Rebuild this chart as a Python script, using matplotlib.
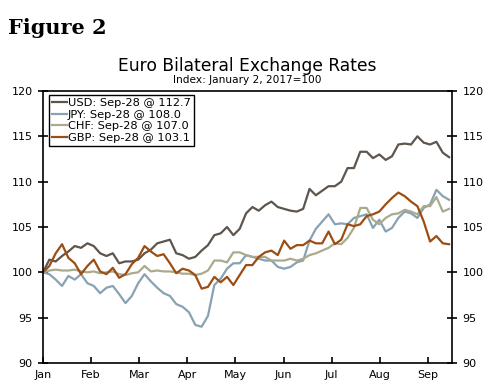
import numpy as np
import matplotlib
matplotlib.use('Agg')
import matplotlib.pyplot as plt

# index values, Jan 2 2017 = 100, sampled about every 3 business days to Sep 28
usd = [100.0, 101.4, 101.2, 101.8, 102.3, 102.9, 102.7, 103.2, 102.9, 102.1,
       101.8, 102.1, 101.0, 101.2, 101.2, 101.4, 102.1, 102.5, 103.2, 103.4,
       103.6, 102.1, 101.9, 101.5, 101.7, 102.4, 103.0, 104.1, 104.3, 105.0,
       104.1, 104.8, 106.5, 107.2, 106.8, 107.4, 107.8, 107.2, 107.0, 106.8,
       106.7, 107.0, 109.2, 108.5, 109.0, 109.5, 109.5, 110.0, 111.5, 111.5,
       113.3, 113.3, 112.6, 113.0, 112.4, 112.8, 114.1, 114.2, 114.1, 115.0,
       114.3, 114.1, 114.4, 113.2, 112.7]
jpy = [100.0, 99.8, 99.2, 98.5, 99.6, 99.2, 99.8, 98.8, 98.5, 97.7,
       98.3, 98.5, 97.6, 96.6, 97.4, 98.8, 99.8, 99.0, 98.3, 97.7,
       97.4, 96.5, 96.2, 95.6, 94.2, 94.0, 95.2, 98.6, 99.3, 100.4,
       101.0, 101.0, 101.9, 101.7, 101.5, 101.3, 101.3, 100.6, 100.4, 100.6,
       101.1, 101.3, 103.5, 104.8, 105.6, 106.4, 105.3, 105.4, 105.3, 106.0,
       106.2, 106.4, 104.9, 105.8, 104.5, 104.9, 106.0, 106.7, 106.5, 106.0,
       107.1, 107.5, 109.1, 108.4, 108.0]
chf = [100.0, 100.2, 100.3, 100.2, 100.2, 100.3, 100.1, 100.0, 100.1, 99.9,
       100.0, 100.1, 99.8, 99.7, 99.9, 100.0, 100.7, 100.1, 100.2, 100.1,
       100.1, 100.0, 99.85, 99.85, 99.7, 99.85, 100.2, 101.3, 101.3, 101.1,
       102.2, 102.2, 101.9, 101.7, 101.7, 101.7, 101.3, 101.3, 101.3, 101.5,
       101.3, 101.5, 101.9, 102.1, 102.4, 102.7, 103.2, 103.1, 103.8, 104.9,
       107.1, 107.1, 105.8, 105.3, 106.0, 106.4, 106.5, 106.9, 106.7, 106.4,
       107.3, 107.3, 108.3, 106.7, 107.0]
gbp = [100.0, 100.7, 102.1, 103.1, 101.6, 101.0, 99.8, 100.7, 101.4, 100.1,
       99.8, 100.5, 99.4, 99.8, 100.9, 101.6, 102.9, 102.3, 101.8, 102.0,
       101.0, 99.9, 100.4, 100.2, 99.7, 98.2, 98.4, 99.5, 98.9, 99.5,
       98.6, 99.7, 100.8, 100.8, 101.7, 102.2, 102.4, 101.9, 103.5, 102.6,
       103.0, 103.0, 103.5, 103.2, 103.2, 104.5, 103.1, 103.6, 105.3, 105.1,
       105.3, 106.2, 106.4, 106.7, 107.5, 108.2, 108.8, 108.4, 107.8, 107.3,
       105.6, 103.4, 104.0, 103.2, 103.1]

months = ['Jan', 'Feb', 'Mar', 'Apr', 'May', 'Jun', 'Jul', 'Aug', 'Sep']
labels = ['USD: Sep-28 @ 112.7', 'JPY: Sep-28 @ 108.0',
          'CHF: Sep-28 @ 107.0', 'GBP: Sep-28 @ 103.1']
colors = ['#5e554c', '#89a2b2', '#aaaa8c', '#9a4e14']


def main():
    matplotlib.rcParams.update({'font.family': 'DejaVu Sans', 'font.size': 8})

    fig = plt.figure(figsize=(4.89, 3.88), dpi=100)
    ax = fig.add_axes([43 / 489, 1 - 363 / 388, 409 / 489, 272 / 388])

    # month axis: equal spaced months, last obs (Sep-28) near 8.44
    x = np.linspace(0, 8.44, len(usd))
    for vals, lab, c in zip([usd, jpy, chf, gbp], labels, colors):
        ax.plot(x, vals, color=c, lw=1.6, label=lab)

    ax.set_xlim(0, 8.5)
    ax.set_ylim(90, 120)
    ax.set_xticks(range(len(months)))
    ax.set_xticklabels(months)
    ax.set_yticks(range(90, 121, 5))
    ax.tick_params(axis='y', direction='inout', length=7, width=1.2,
                   right=True, labelright=True, pad=4, labelsize=8)
    ax.tick_params(axis='x', direction='in', length=4, width=1.2, pad=5, labelsize=8)
    for s in ax.spines.values():
        s.set_linewidth(1.2)

    leg = ax.legend(loc='upper left', bbox_to_anchor=(0.015, 0.985), fancybox=False,
                    edgecolor='black', framealpha=1, handlelength=1.3,
                    handletextpad=0.1, borderpad=0.25, labelspacing=0.15,
                    borderaxespad=0, fontsize=8.2)
    leg.get_frame().set_linewidth(1.0)

    fig.text(0.017, 0.912, 'Figure 2', family='DejaVu Serif', weight='bold', fontsize=15)
    fig.text(0.505, 0.818, 'Euro Bilateral Exchange Rates', ha='center', fontsize=12.3)
    fig.text(0.505, 0.785, 'Index: January 2, 2017=100', ha='center', fontsize=7.6)

    fig.savefig('out.png', dpi=100)


if __name__ == '__main__':
    main()
